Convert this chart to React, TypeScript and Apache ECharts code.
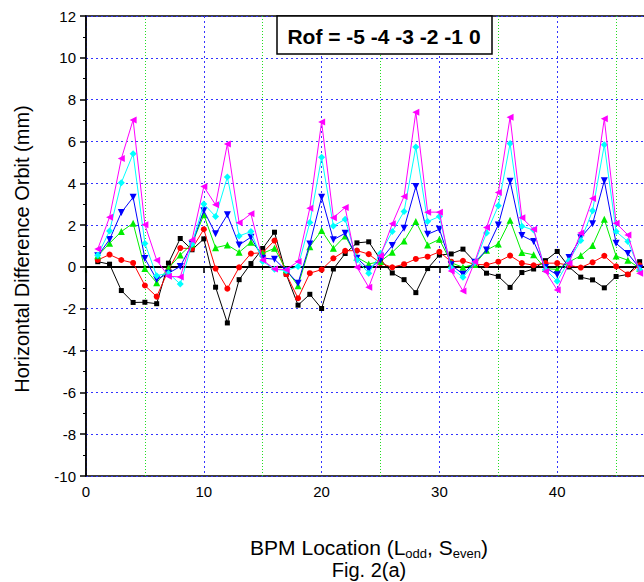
import React, { useEffect, useRef } from "react";
import * as echarts from "echarts";

const bpm = [1, 2, 3, 4, 5, 6, 7, 8, 9, 10, 11, 12, 13, 14, 15, 16, 17, 18, 19, 20, 21, 22, 23, 24, 25, 26, 27, 28, 29, 30, 31, 32, 33, 34, 35, 36, 37, 38, 39, 40, 41, 42, 43, 44, 45, 46, 47];

const rofM5 = [0.25, 0.13, -1.13, -1.7, -1.69, -1.76, 0.18, 1.36, 0.82, 1.34, -0.97, -2.68, -0.61, 0.16, 0.88, 1.66, -0.35, -1.83, -1.31, -1.99, -0.1, 0.64, 1.15, 1.2, 0.35, -0.29, -0.61, -1.23, -0.08, 0.57, 0.62, 0.85, 0.25, -0.3, -0.45, -0.98, -0.27, -0.1, 0.3, 0.74, 0.0, -0.49, -0.62, -1.0, -0.46, -0.36, 0.25];
const rofM4 = [0.33, 0.59, 0.33, 0.19, -0.89, -1.42, -0.15, 0.9, 0.87, 1.8, -0.08, -1.04, -0.02, 0.64, 0.68, 1.26, -0.35, -1.5, -0.3, -0.13, 0.41, 0.77, 0.78, 0.61, 0.18, -0.02, 0.13, 0.38, 0.49, 0.72, 0.25, 0.29, 0.12, 0.1, 0.25, 0.54, 0.18, 0.08, 0.18, 0.18, 0.08, -0.03, 0.22, 0.53, 0.03, -0.36, 0.08];
const rofM3 = [0.53, 1.13, 1.69, 2.09, -0.08, -0.76, -0.06, 0.57, 1.1, 2.49, 0.92, 1.05, 0.7, 1.18, 0.65, 0.89, -0.13, -0.9, 0.97, 1.74, 0.89, 1.48, 0.46, 0.14, 0.26, 0.7, 1.24, 2.17, 1.05, 1.32, 0.2, -0.02, 0.12, 0.8, 1.1, 2.23, 0.69, 0.58, -0.08, -0.12, 0.23, 0.54, 1.02, 2.28, 0.52, 0.32, -0.06];
const rofM2 = [0.53, 1.31, 2.6, 3.33, 0.4, -0.6, -0.3, 0.02, 1.1, 2.69, 1.58, 2.49, 1.05, 1.42, 0.42, 0.37, -0.18, -0.78, 1.1, 3.33, 1.3, 1.61, 0.42, -0.11, 0.33, 1.02, 1.85, 3.84, 1.56, 1.8, 0.1, -0.35, 0.22, 0.81, 2.01, 4.1, 1.5, 1.22, -0.03, -0.38, 0.45, 1.4, 2.06, 4.12, 1.13, 0.64, -0.06];
const rofM1 = [0.56, 1.72, 4.03, 5.41, 1.12, -0.42, -0.3, -0.82, 1.1, 3.01, 2.41, 4.3, 1.48, 1.69, 0.26, -0.11, -0.18, 0.02, 2.12, 5.24, 1.96, 2.28, 0.33, -0.3, 0.65, 1.69, 2.65, 5.73, 2.17, 2.41, -0.05, -0.5, 0.2, 1.62, 2.92, 5.9, 1.95, 1.76, -0.12, -0.68, 0.3, 1.26, 2.68, 5.84, 1.69, 1.21, -0.13];
const rof0 = [0.86, 2.38, 5.18, 7.03, 2.02, 0.32, -0.45, -0.48, 1.29, 3.84, 2.97, 5.88, 2.11, 2.54, 0.33, -0.1, -0.13, 0.26, 2.81, 6.93, 2.35, 2.84, -0.02, -0.97, 0.53, 2.06, 3.37, 7.4, 2.62, 2.62, -0.2, -1.15, 0.25, 1.88, 3.56, 7.16, 2.35, 1.8, -0.22, -1.1, 0.18, 1.62, 3.27, 7.08, 2.09, 1.53, -0.3];

const legendLabels = ["-5", "-4", "-3", "-2", "-1", "0"];
const xTitle = "BPM Location";
const yTitle = "Horizontal Difference Orbit (mm)";
const figTitle = "Fig. 2(a)";

const seriesDefs = [
  { name: "-5", values: rofM5, color: "#000000", symbol: "rect", rotate: 0, size: 5 },
  { name: "-4", values: rofM4, color: "#ff0000", symbol: "circle", rotate: 0, size: 6 },
  { name: "-3", values: rofM3, color: "#00ee00", symbol: "triangle", rotate: 0, size: 7 },
  { name: "-2", values: rofM2, color: "#0000ff", symbol: "triangle", rotate: 180, size: 7 },
  { name: "-1", values: rofM1, color: "#00ffff", symbol: "diamond", rotate: 0, size: 7 },
  { name: "0", values: rof0, color: "#ff00ff", symbol: "triangle", rotate: 90, size: 7 },
];

const legendColors = ["#000000", "#ff0000", "#00ee00", "#0000ff", "#00ffff", "#ff00ff"];

export default function App() {
  const ref = useRef<HTMLDivElement>(null);
  useEffect(() => {
    if (!ref.current) return;
    const chart = echarts.init(ref.current, null, { renderer: "svg" });
    const font = "Liberation Sans, Arial, sans-serif";
    const series: any[] = seriesDefs.map((s, i) => ({
      name: s.name,
      type: "line",
      data: bpm.map((x, j) => [x, s.values[j]]),
      symbol: s.symbol,
      symbolRotate: s.rotate,
      symbolSize: s.size,
      showSymbol: true,
      itemStyle: { color: s.color },
      lineStyle: { color: s.color, width: 1 },
      z: 3 + i,
      markLine:
        i === 0
          ? {
              silent: true,
              symbol: "none",
              label: { show: false },
              lineStyle: { color: "#000", width: 2, type: "solid" },
              data: [{ yAxis: 0 }],
              z: 2,
            }
          : undefined,
    }));
    const rich: any = {
      t: { fontSize: 21, fontWeight: "bold", color: "#000", fontFamily: font },
    };
    legendLabels.forEach((l, i) => {
      rich["c" + i] = { fontSize: 21, fontWeight: "bold", color: legendColors[i], fontFamily: font };
    });
    const legendText =
      "{t|Rof = }" +
      legendLabels.map((l, k) => "{c" + k + "|" + (k === 0 ? "" : "\u00a0") + l + "}").join("");
    chart.setOption({
      animation: false,
      backgroundColor: "#fff",
      grid: {
        left: 86,
        top: 16,
        right: -31,
        bottom: 106,
        containLabel: false,
        outerBoundsMode: "none",
        show: true,
        borderColor: "#000",
        borderWidth: 1.5,
        backgroundColor: "transparent",
      },
      xAxis: {
        type: "value",
        min: 0,
        max: 50,
        interval: 10,
        axisLine: { show: true, lineStyle: { color: "#000", width: 1.5 } },
        axisTick: { show: true, inside: false, length: 6, lineStyle: { color: "#000", width: 1.5 } },
        minorTick: { show: true, splitNumber: 2, length: 3, lineStyle: { color: "#000" } },
        axisLabel: { color: "#000", fontSize: 15, fontFamily: font, margin: 8, showMaxLabel: false },
        splitLine: { show: true, lineStyle: { color: "#3333ff", width: 1, type: [2, 3] } },
        minorSplitLine: { show: true, lineStyle: { color: "#22dd22", width: 1, type: [1, 2] } },
      },
      yAxis: {
        type: "value",
        min: -10,
        max: 12,
        interval: 2,
        axisLine: { show: true, lineStyle: { color: "#000", width: 1.5 } },
        axisTick: { show: true, inside: false, length: 6, lineStyle: { color: "#000", width: 1.5 } },
        minorTick: { show: true, splitNumber: 2, length: 3, lineStyle: { color: "#000" } },
        axisLabel: { color: "#000", fontSize: 15, fontFamily: font, margin: 10 },
        splitLine: { show: true, lineStyle: { color: "#3333ff", width: 1, type: [2, 3] } },
      },
      series,
      graphic: [
        {
          type: "text",
          x: 22,
          y: 249,
          rotation: Math.PI / 2,
          style: {
            text: yTitle,
            fontSize: 20,
            fontFamily: font,
            fill: "#000",
            textAlign: "center",
            textVerticalAlign: "middle",
          },
        },
        {
          type: "text",
          x: 369,
          y: 547,
          style: {
            text: "{m|" + xTitle + " (L}{s|odd}{m|, S}{s|even}{m|)}",
            rich: {
              m: { fontSize: 21, fontFamily: font, fill: "#000", color: "#000" },
              s: { fontSize: 13, fontFamily: font, fill: "#000", color: "#000", padding: [13, 0, 0, 0] },
            },
            textAlign: "center",
            textVerticalAlign: "middle",
          },
        },
        {
          type: "text",
          x: 369,
          y: 570,
          style: {
            text: figTitle,
            fontSize: 20,
            fontFamily: font,
            fill: "#000",
            textAlign: "center",
            textVerticalAlign: "middle",
          },
        },
        {
          type: "rect",
          shape: { x: 277, y: 16, width: 215, height: 38 },
          style: { fill: "#fff", stroke: "#000", lineWidth: 1.5 },
          z: 100,
        },
        {
          type: "text",
          x: 384,
          y: 36,
          z: 101,
          style: {
            text: legendText,
            rich,
            textAlign: "center",
            textVerticalAlign: "middle",
          },
        },
      ],
    });
    return () => chart.dispose();
  }, []);
  return (
    <div
      ref={ref}
      style={{ position: "absolute", left: 0, top: 0, width: 644, height: 582, background: "#fff" }}
    />
  );
}
